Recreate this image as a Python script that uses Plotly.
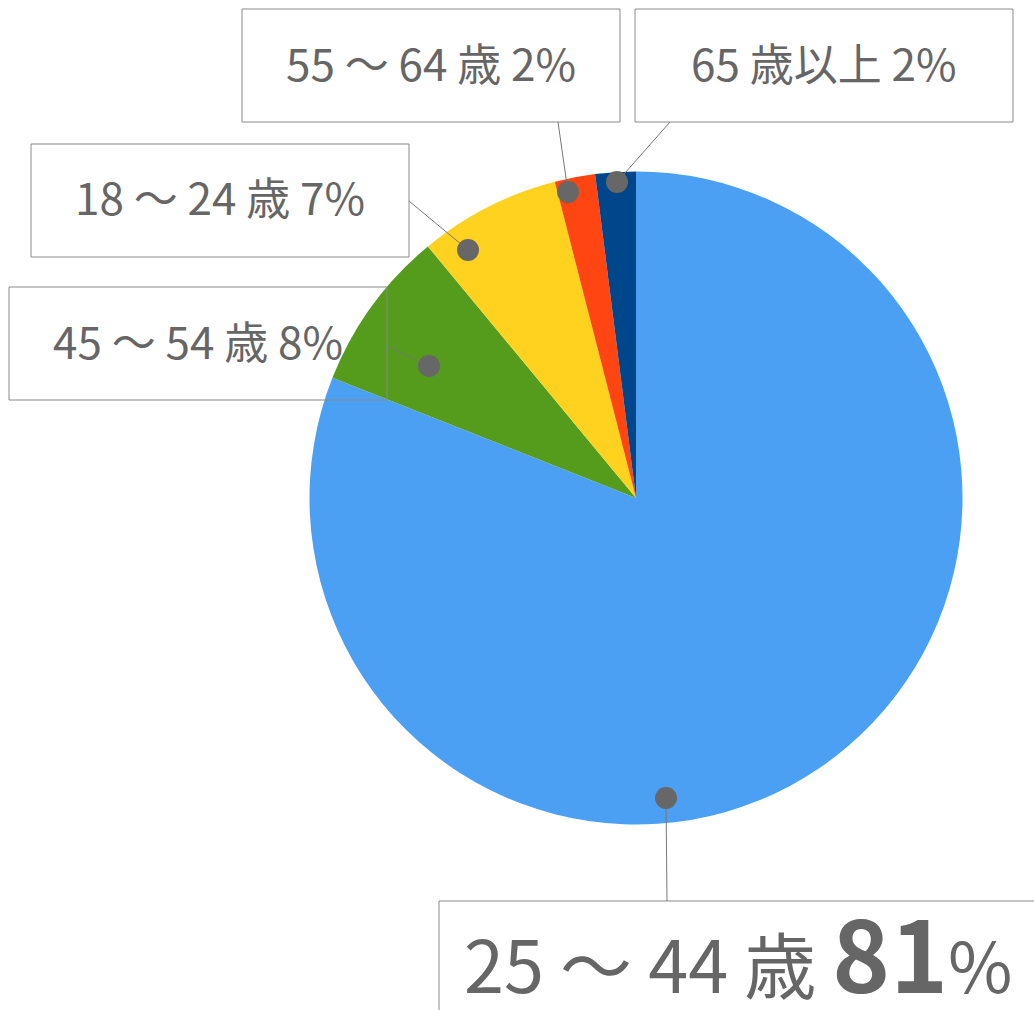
import plotly.graph_objects as go

# ---------------- data ----------------
labels = ["25～44歳", "45～54歳", "18～24歳", "55～64歳", "65歳以上"]
label_text = ["25 ～ 44 歳", "45 ～ 54 歳", "18 ～ 24 歳", "55 ～ 64 歳", "65 歳以上"]
values = [81, 8, 7, 2, 2]
colors = ["#4BA0F3", "#559B1C", "#FFD21F", "#FF4511", "#00468A"]

# ---------------- layout helpers (pixels) ----------------
W, H = 1034, 1010
CX, CY, R = 636, 498, 326.5

def px(x):
    return x / W

def py(y):
    return 1 - y / H

# callout geometry per label: box (x0, y0, x1, y1), line start, dot centre
callouts = [
    dict(box=(439, 901, 1100, 1100), start=(667, 901), dot=(666, 798)),
    dict(box=(9, 287, 387, 400), start=(387, 346), dot=(429, 366)),
    dict(box=(31, 144, 409, 257), start=(409, 201), dot=(468, 250)),
    dict(box=(242, 9, 620, 122), start=(558, 122), dot=(568, 192)),
    dict(box=(635, 9, 1013, 122), start=(670, 122), dot=(617, 182)),
]

TEXT = "#666666"
FONT = "Noto Sans CJK JP"

fig = go.Figure(
    go.Pie(
        labels=labels,
        values=values,
        marker=dict(colors=colors, line=dict(width=0)),
        sort=False,
        direction="clockwise",
        rotation=0,
        textinfo="none",
        hoverinfo="label+percent",
        showlegend=False,
        domain=dict(x=[px(CX - R), px(CX + R)], y=[py(CY + R), py(CY - R)]),
    )
)

shapes = []
annotations = []
DOT_R = 11
for i, c in enumerate(callouts):
    x0, y0, x1, y1 = c["box"]
    shapes.append(dict(type="rect", xref="paper", yref="paper",
                       x0=px(x0), x1=px(x1), y0=py(y1), y1=py(y0),
                       line=dict(color="#8a8a8a", width=1),
                       fillcolor="rgba(0,0,0,0)"))
    sx, sy = c["start"]
    dx, dy = c["dot"]
    shapes.append(dict(type="line", xref="paper", yref="paper",
                       x0=px(sx), y0=py(sy), x1=px(dx), y1=py(dy),
                       line=dict(color="#777777", width=1)))
    shapes.append(dict(type="circle", xref="paper", yref="paper",
                       x0=px(dx - DOT_R), x1=px(dx + DOT_R),
                       y0=py(dy + DOT_R), y1=py(dy - DOT_R),
                       fillcolor="#676767", line=dict(width=0)))
    if i == 0:
        txt = (f"{label_text[i]} "
               f"<span style='font-size:98px;font-weight:bold'>{values[i]}</span>"
               f"<span style='font-size:70px'>%</span>")
        annotations.append(dict(xref="paper", yref="paper",
                                x=px(462), y=py(950), xanchor="left", yanchor="middle",
                                text=txt, showarrow=False,
                                font=dict(family=FONT, size=72, color=TEXT)))
    else:
        annotations.append(dict(xref="paper", yref="paper",
                                x=px((x0 + x1) / 2), y=py((y0 + y1) / 2 - 4),
                                xanchor="center", yanchor="middle",
                                text=f"{label_text[i]} {values[i]}%", showarrow=False,
                                font=dict(family=FONT, size=44, color=TEXT)))

fig.update_layout(
    width=W, height=H,
    margin=dict(l=0, r=0, t=0, b=0),
    paper_bgcolor="white",
    plot_bgcolor="white",
    shapes=shapes,
    annotations=annotations,
)

fig.write_html("out.html")
